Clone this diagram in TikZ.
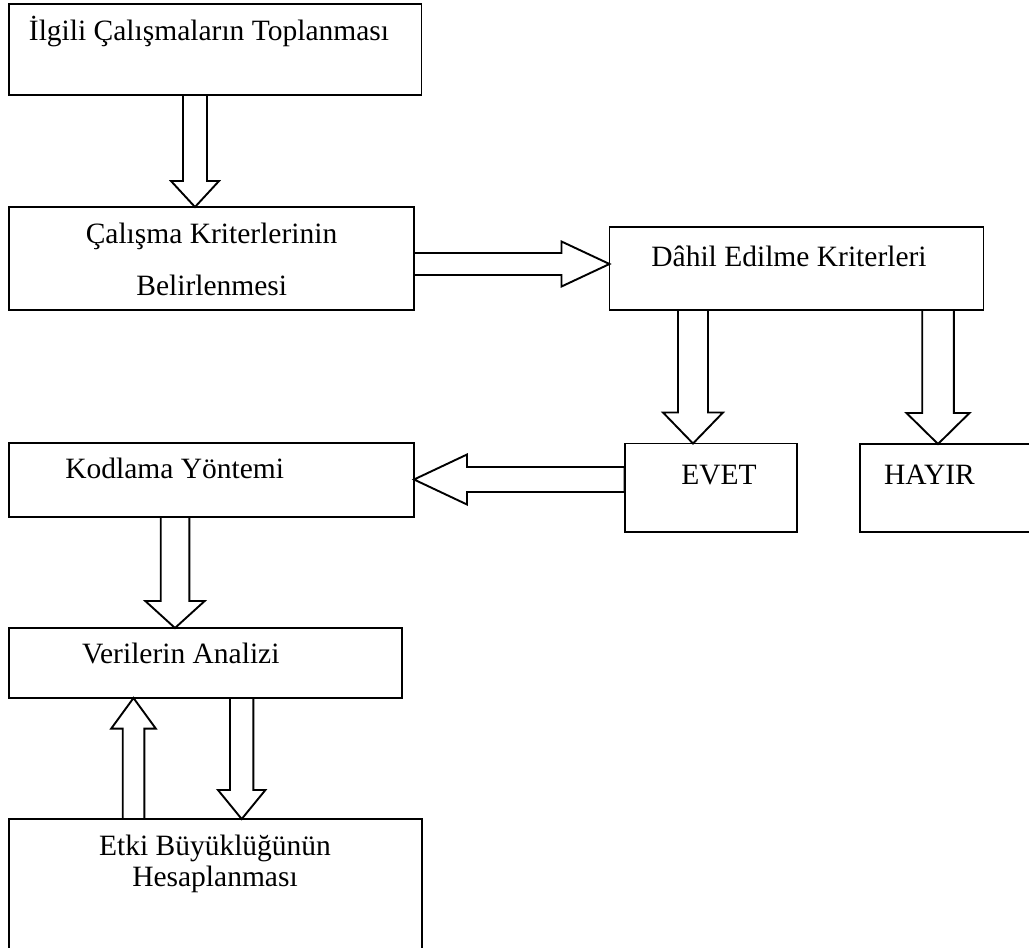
\documentclass[tikz,border=0pt]{standalone}
\usepackage{fontspec}
\setmainfont{Liberation Serif}
\usetikzlibrary{calc,fit}
\newcommand\blockarr[5]{%
  \coordinate (ba-s) at (#1);
  \coordinate (ba-e) at (#2);
  \coordinate (ba-h) at ($(ba-e)!#5!(ba-s)$);
  \draw[blk] ($(ba-s)!#3!90:(ba-e)$) -- ($(ba-h)!#3!90:(ba-e)$) -- ($(ba-h)!#4!90:(ba-e)$)
    -- (ba-e) -- ($(ba-h)!#4!-90:(ba-e)$) -- ($(ba-h)!#3!-90:(ba-e)$) -- ($(ba-s)!#3!-90:(ba-e)$) -- cycle;
}
\begin{document}
\begin{tikzpicture}[x=1pt,y=-1pt,
  box/.style={draw, line width=1.9pt, inner sep=0pt, outer sep=0pt},
  blk/.style={draw, fill=white, line width=1.9pt, line join=miter},
  txt/.style={inner sep=0pt, anchor=base, font=\fontsize{29.5}{34}\selectfont}]
\path[use as bounding box, clip] (0,0) rectangle (1029,948);
\fill[white] (0,0) rectangle (1029,948);
% boxes
\node[box, fit={(9,4) (421.5,95)}] (b1) {};
\node[box, fit={(9,207) (414,310)}] (b2) {};
\node[box, fit={(609.5,227) (983.5,310)}] (b3) {};
\node[box, fit={(624.6,443.5) (797,532)}] (b4) {};
\node[box, fit={(860,444) (1045,532)}] (b5) {};
\node[box, fit={(9,443) (414,517)}] (b6) {};
\node[box, fit={(9,628) (401.7,698)}] (b7) {};
\node[box, fit={(9,819) (421.7,960)}] (b8) {};
% texts
\node[txt] (t1) at (209,40.7) {İlgili Çalışmaların Toplanması};
\node[txt] (t2a) at (211.5,243) {Çalışma Kriterlerinin};
\node[txt] (t2b) at (211.7,295) {Belirlenmesi};
\node[txt] (t3) at (789,266) {Dâhil Edilme Kriterleri};
\node[txt] (t4) at (719,484) {EVET};
\node[txt] (t5) at (929.5,484) {HAYIR};
\node[txt] (t6) at (174.7,478) {Kodlama Yöntemi};
\node[txt] (t7) at (180.8,663) {Verilerin Analizi};
\node[txt] (t8a) at (215,855) {Etki Büyüklüğünün};
\node[txt] (t8b) at (215,886.7) {Hesaplanması};
% arrow guide coordinates
\coordinate (c1) at (195,0);
\coordinate (c2) at (0,264);
\coordinate (c3) at (693,0);
\coordinate (c4) at (938,0);
\coordinate (c5) at (0,479.5);
\coordinate (c6) at (175,0);
\coordinate (c7) at (133.5,0);
\coordinate (c8) at (241.7,0);
% block arrows
\blockarr{b1.south -| c1}{b2.north -| c1}{12pt}{24pt}{26pt}
\blockarr{b2.east |- c2}{b3.west |- c2}{11pt}{22.5pt}{48pt}
\blockarr{b3.south -| c3}{b4.north -| c3}{15pt}{30pt}{31pt}
\blockarr{b3.south -| c4}{b5.north -| c4}{15.8pt}{31.5pt}{31pt}
\blockarr{b4.west |- c5}{b6.east |- c5}{12.5pt}{25pt}{53pt}
\blockarr{b6.south -| c6}{b7.north -| c6}{14.3pt}{29.7pt}{27pt}
\blockarr{b8.north -| c7}{b7.south -| c7}{10.8pt}{22.3pt}{30.6pt}
\blockarr{b7.south -| c8}{b8.north -| c8}{11.7pt}{23.7pt}{29pt}
\end{tikzpicture}
\end{document}
